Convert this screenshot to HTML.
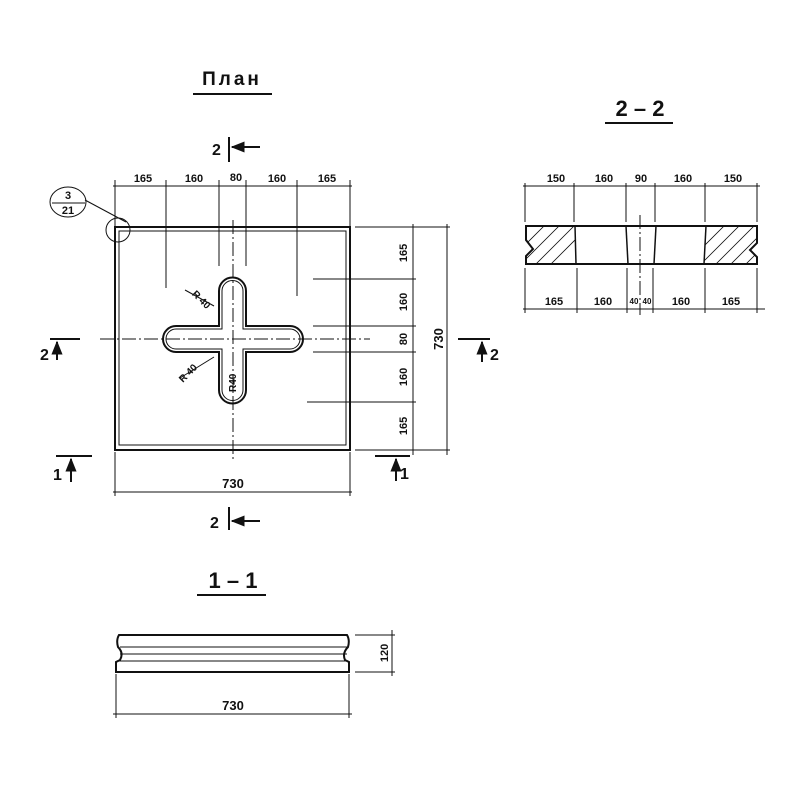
<!DOCTYPE html>
<html><head><meta charset="utf-8"><style>body{margin:0;background:#fff}svg{display:block}text{font-family:"Liberation Sans",sans-serif;fill:#111;font-weight:bold}</style></head><body>
<svg width="800" height="800" viewBox="0 0 800 800" xmlns="http://www.w3.org/2000/svg" stroke="#111" fill="none" stroke-width="1">
<defs><marker id="ar" viewBox="0 0 10 10" refX="9" refY="5" markerWidth="7" markerHeight="7" orient="auto"><path d="M0 1 L10 5 L0 9 Z" fill="#111" stroke="none"/></marker></defs>
<!-- Titles -->
<text x="232" y="85" font-size="19" text-anchor="middle" stroke="none" letter-spacing="3" font-weight="normal">План</text>
<line x1="193" y1="94" x2="272" y2="94" stroke-width="2"/>
<text x="640" y="116" font-size="22" text-anchor="middle" stroke="none" font-weight="normal">2 – 2</text>
<line x1="605" y1="123" x2="673" y2="123" stroke-width="2"/>
<text x="233" y="588" font-size="22" text-anchor="middle" stroke="none" font-weight="normal">1 – 1</text>
<line x1="197" y1="595" x2="266" y2="595" stroke-width="2"/>

<!-- Plan -->
<rect x="115" y="227" width="235" height="223" stroke-width="2"/>
<rect x="119" y="231" width="227" height="214" stroke-width="1"/>
<circle cx="118" cy="230" r="12"/>
<line x1="126" y1="222" x2="85" y2="200"/>
<ellipse cx="68" cy="202" rx="18" ry="15"/>
<line x1="52" y1="203" x2="85" y2="203"/>
<text x="68" y="199" font-size="11" text-anchor="middle" stroke="none">3</text>
<text x="68" y="214" font-size="11" text-anchor="middle" stroke="none">21</text>
<!-- cross -->
<path d="M219 291 A13.5 13.5 0 0 1 246 291 V326 H290 A13 13 0 0 1 290 352 H246 V390 A13.5 13.5 0 0 1 219 390 V352 H176 A13 13 0 0 1 176 326 H219 Z" stroke-width="2"/>
<path d="M222 291 A10.5 10.5 0 0 1 243 291 V329 H290 A10 10 0 0 1 290 349 H243 V390 A10.5 10.5 0 0 1 222 390 V349 H176 A10 10 0 0 1 176 329 H222 Z"/>
<line x1="100" y1="339" x2="370" y2="339" stroke-dasharray="14 3 2 3"/>
<line x1="233" y1="220" x2="233" y2="460" stroke-dasharray="14 3 2 3"/>
<line x1="185" y1="290" x2="214" y2="306"/>
<text x="190" y="298" font-size="10" stroke="none" transform="rotate(45 195 298)">R 40</text>
<line x1="180" y1="378" x2="214" y2="357"/>
<text x="180" y="380" font-size="10" stroke="none" transform="rotate(-45 185 378)">R 40</text>
<text x="236" y="392" font-size="10" stroke="none" transform="rotate(-90 236 392)">R40</text>
<!-- top dims -->
<line x1="113" y1="186" x2="352" y2="186"/>
<g><line x1="115" y1="180" x2="115" y2="227"/><line x1="166" y1="180" x2="166" y2="288"/><line x1="219" y1="180" x2="219" y2="266"/><line x1="246" y1="180" x2="246" y2="266"/><line x1="297" y1="180" x2="297" y2="296"/><line x1="350" y1="180" x2="350" y2="227"/></g>
<g font-size="11" stroke="none" text-anchor="middle"><text x="143" y="182">165</text><text x="194" y="182">160</text><text x="236" y="181">80</text><text x="277" y="182">160</text><text x="327" y="182">165</text></g>
<!-- right dims -->
<line x1="413" y1="224" x2="413" y2="455"/><line x1="447" y1="224" x2="447" y2="455"/>
<line x1="355" y1="227" x2="450" y2="227"/><line x1="313" y1="279" x2="416" y2="279"/><line x1="313" y1="326" x2="416" y2="326"/><line x1="313" y1="352" x2="416" y2="352"/><line x1="307" y1="402" x2="416" y2="402"/><line x1="355" y1="450" x2="450" y2="450"/>
<g font-size="11" stroke="none" text-anchor="middle"><text transform="translate(407 253) rotate(-90)">165</text><text transform="translate(407 302) rotate(-90)">160</text><text transform="translate(407 339) rotate(-90)">80</text><text transform="translate(407 377) rotate(-90)">160</text><text transform="translate(407 426) rotate(-90)">165</text><text transform="translate(443 339) rotate(-90)" font-size="13">730</text></g>
<!-- bottom dim -->
<line x1="113" y1="492" x2="352" y2="492"/><line x1="115" y1="452" x2="115" y2="496"/><line x1="350" y1="452" x2="350" y2="496"/>
<text x="233" y="488" font-size="13" text-anchor="middle" stroke="none">730</text>
<!-- section marks -->
<g stroke-width="2"><line x1="229" y1="137" x2="229" y2="162"/><line x1="260" y1="147" x2="232" y2="147" marker-end="url(#ar)"/>
<line x1="229" y1="507" x2="229" y2="530"/><line x1="260" y1="521" x2="232" y2="521" marker-end="url(#ar)"/>
<line x1="50" y1="339" x2="80" y2="339"/><line x1="57" y1="360" x2="57" y2="342" marker-end="url(#ar)"/>
<line x1="458" y1="339" x2="490" y2="339"/><line x1="482" y1="362" x2="482" y2="342" marker-end="url(#ar)"/>
<line x1="56" y1="456" x2="92" y2="456"/><line x1="71" y1="482" x2="71" y2="459" marker-end="url(#ar)"/>
<line x1="375" y1="456" x2="410" y2="456"/><line x1="396" y1="481" x2="396" y2="459" marker-end="url(#ar)"/></g>
<g font-size="16" stroke="none"><text x="212" y="155">2</text><text x="210" y="528">2</text><text x="40" y="360">2</text><text x="490" y="360">2</text><text x="53" y="480">1</text><text x="400" y="479">1</text></g>

<!-- 2-2 -->
<path d="M526 226 H757 V243 L750 250 L757 257 V264 H526 V256 L533 249 L526 240 Z" stroke-width="2"/>
<g stroke-width="1.5"><line x1="575" y1="226" x2="576" y2="264"/><line x1="626" y1="226" x2="628" y2="264"/><line x1="656" y1="226" x2="654" y2="264"/><line x1="706" y1="226" x2="704" y2="264"/></g>
<g clip-path="url(#c1)" stroke-width="0.8"><clipPath id="c1"><path d="M526 226 H575 V264 H526 V256 L533 249 L526 240 Z M706 226 H757 V243 L750 250 L757 257 V264 H704 Z"/></clipPath>
<path d="M520 250 l30 -30 M520 265 l45 -45 M530 270 l50 -50 M545 270 l40 -40 M700 250 l30 -30 M700 265 l45 -45 M710 270 l50 -50 M725 270 l40 -40 M740 270 l30 -30"/></g>
<line x1="640" y1="215" x2="640" y2="315" stroke-dasharray="14 3 2 3"/>
<line x1="523" y1="186" x2="760" y2="186"/>
<g><line x1="525" y1="183" x2="525" y2="222"/><line x1="574" y1="183" x2="574" y2="222"/><line x1="626" y1="183" x2="626" y2="222"/><line x1="655" y1="183" x2="655" y2="222"/><line x1="705" y1="183" x2="705" y2="222"/><line x1="757" y1="183" x2="757" y2="222"/></g>
<g font-size="11" stroke="none" text-anchor="middle"><text x="556" y="182">150</text><text x="604" y="182">160</text><text x="641" y="182">90</text><text x="683" y="182">160</text><text x="733" y="182">150</text></g>
<line x1="523" y1="309" x2="765" y2="309"/>
<g><line x1="525" y1="268" x2="525" y2="313"/><line x1="577" y1="268" x2="577" y2="313"/><line x1="627" y1="268" x2="627" y2="313"/><line x1="653" y1="268" x2="653" y2="313"/><line x1="705" y1="268" x2="705" y2="313"/><line x1="757" y1="268" x2="757" y2="313"/></g>
<g font-size="11" stroke="none" text-anchor="middle"><text x="554" y="305">165</text><text x="603" y="305">160</text><text x="634" y="304" font-size="8">40</text><text x="647" y="304" font-size="8">40</text><text x="681" y="305">160</text><text x="731" y="305">165</text></g>

<!-- 1-1 -->
<path d="M119 635 H347 Q350 640 348 647 Q342 653 345 660 L349 662 V672 H116 V662 L120 660 Q124 653 118 647 Q116 640 119 635 Z" stroke-width="2"/>
<line x1="120" y1="647" x2="347" y2="647"/><line x1="120" y1="654" x2="347" y2="654"/><line x1="118" y1="661" x2="348" y2="661"/>
<line x1="355" y1="635" x2="395" y2="635"/><line x1="355" y1="672" x2="395" y2="672"/><line x1="392" y1="630" x2="392" y2="676"/>
<text transform="translate(388 653) rotate(-90)" font-size="11" text-anchor="middle" stroke="none">120</text>
<line x1="113" y1="714" x2="352" y2="714"/><line x1="116" y1="674" x2="116" y2="718"/><line x1="349" y1="674" x2="349" y2="718"/>
<text x="233" y="710" font-size="13" text-anchor="middle" stroke="none">730</text>
</svg>
</body></html>
